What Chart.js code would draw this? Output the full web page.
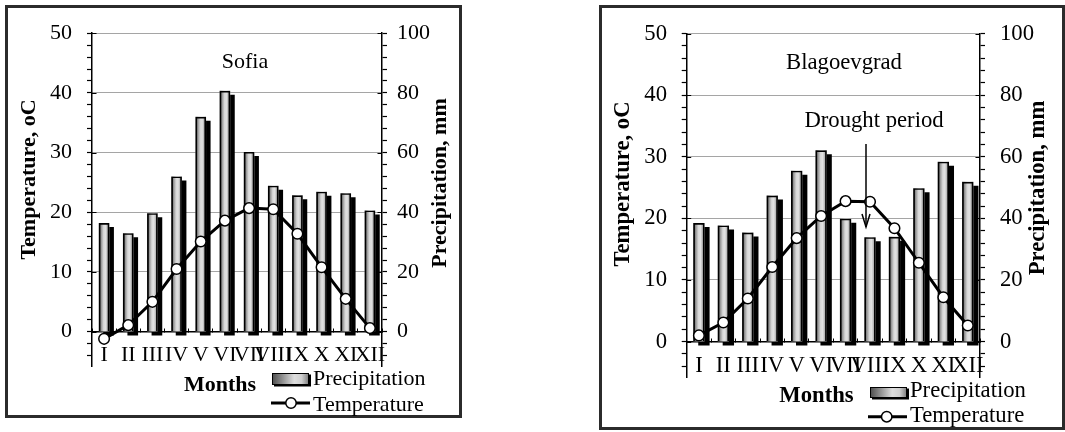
<!DOCTYPE html>
<html><head><meta charset="utf-8">
<script src="https://cdn.jsdelivr.net/npm/chart.js@4.4.1/dist/chart.umd.min.js"></script>
<style>
html,body{margin:0;padding:0;background:#fff;width:1065px;height:432px;overflow:hidden;}
.box{position:absolute;border:3px solid #2b2b2b;box-sizing:border-box;}
canvas{position:absolute;}
</style></head><body>
<div class="box" style="left:5px;top:5px;width:457px;height:413px"></div>
<div class="box" style="left:599px;top:5px;width:466px;height:425px"></div>
<canvas id="sofia" width="457" height="413" style="left:5px;top:5px"></canvas>
<canvas id="blag" width="466" height="425" style="left:599px;top:5px"></canvas>
<script>
const months = ['I','II','III','IV','V','VI','VII','VIII','IX','X','XI','XII'];
const sofiaTemperature = [-1.2, 1.1, 5.0, 10.5, 15.1, 18.6, 20.7, 20.5, 16.4, 10.8, 5.5, 0.6];
const sofiaPrecipitation = [36.3, 32.9, 39.6, 51.9, 71.9, 80.6, 60.1, 48.8, 45.6, 46.8, 46.3, 40.5];
const blagTemperature = [1.0, 3.1, 7.0, 12.1, 16.8, 20.4, 22.8, 22.7, 18.4, 12.8, 7.2, 2.6];
const blagPrecipitation = [38.4, 37.6, 35.3, 47.3, 55.4, 62.0, 39.8, 33.8, 33.9, 49.7, 58.3, 51.8];
const temperatureTickLabels = [0, 10, 20, 30, 40, 50];
const precipitationTickLabels = [0, 20, 40, 60, 80, 100];
const temperatureMinorStep = 2;
const precipitationMinorStep = 4;

const FONT = '"Liberation Serif", "Times New Roman", Times, serif';
function font(size, bold) { return (bold ? 'bold ' : '') + size + 'px ' + FONT; }

function barFill(chart, index, width) {
  const xs = chart.scales && chart.scales.x;
  if (!xs || !chart.chartArea) return '#c8c8c8';
  const cx = xs.getPixelForValue(index);
  const g = chart.ctx.createLinearGradient(cx - width / 2, 0, cx + width / 2, 0);
  g.addColorStop(0, '#5a5a5a');
  g.addColorStop(0.45, '#d8d8d8');
  g.addColorStop(0.65, '#e2e2e2');
  g.addColorStop(1, '#8a8a8a');
  return g;
}

function drawRot(c, text, x, y) {
  c.save(); c.translate(x, y); c.rotate(-Math.PI / 2);
  c.textAlign = 'center'; c.textBaseline = 'middle';
  c.fillText(text, 0, 0); c.restore();
}

const decorPlugin = {
  id: 'decor',
  beforeDatasetDraw(chart, args, o) {
    if (args.index === 0) {
      const c = chart.ctx; c.save();
      c.shadowColor = '#000'; c.shadowBlur = 0;
      c.shadowOffsetX = o.shadowX; c.shadowOffsetY = o.shadowY;
    }
  },
  afterDatasetDraw(chart, args) {
    if (args.index === 0) chart.ctx.restore();
  },
  afterDraw(chart, args, o) {
    const c = chart.ctx, a = chart.chartArea, fs = o.fs;
    c.save();
    // inward major ticks
    c.strokeStyle = '#000'; c.lineWidth = 1.2;
    temperatureTickLabels.forEach(v => {
      const y = Math.round(chart.scales.y.getPixelForValue(v)) + 0.5;
      c.beginPath();
      c.moveTo(a.left, y); c.lineTo(a.left + 4.5, y);
      c.moveTo(a.right - 4.5, y); c.lineTo(a.right, y);
      c.stroke();
    });
    c.fillStyle = '#000';
    c.textAlign = 'center'; c.textBaseline = 'middle';
    c.font = font(fs, false);
    c.fillText(o.title, o.titleX, o.titleY);
    c.font = font(fs, true);
    drawRot(c, o.leftTitle, o.leftTitleX, o.leftTitleY);
    drawRot(c, o.rightTitle, o.rightTitleX, o.rightTitleY);
    c.fillText(o.xTitle, o.xTitleX, o.xTitleY);
    // legend: precipitation
    const [rx, ry, rw, rh] = o.legRect;
    c.fillStyle = '#000';
    c.fillRect(rx + 2, ry + 1.5, rw, rh);
    const g = c.createLinearGradient(rx, 0, rx + rw, 0);
    g.addColorStop(0, '#4a4a4a'); g.addColorStop(0.6, '#dedede'); g.addColorStop(0.8, '#d0d0d0'); g.addColorStop(1, '#7a7a7a');
    c.fillStyle = g; c.fillRect(rx, ry, rw, rh);
    c.strokeStyle = '#000'; c.lineWidth = 1; c.strokeRect(rx + 0.5, ry + 0.5, rw - 1, rh - 1);
    c.fillStyle = '#000'; c.textAlign = 'left';
    c.font = font(fs, false);
    c.fillText(o.legLabel1, o.legText1[0], o.legText1[1]);
    // legend: temperature
    const [lx1, lx2, ly] = o.legLine;
    c.lineWidth = 3; c.beginPath(); c.moveTo(lx1, ly); c.lineTo(lx2, ly); c.stroke();
    c.beginPath(); c.arc(o.legCircle, ly, 5.2, 0, Math.PI * 2);
    c.fillStyle = '#fff'; c.fill(); c.lineWidth = 1.5; c.stroke();
    c.fillStyle = '#000';
    c.fillText(o.legLabel2, o.legText2[0], o.legText2[1]);
    // drought annotation
    if (o.drought) {
      const d = o.drought;
      c.textAlign = 'center';
      c.fillText(d.text, d.x, d.y);
      c.lineWidth = 1.5; c.strokeStyle = '#000';
      c.beginPath(); c.moveTo(d.ax, d.ay1); c.lineTo(d.ax, d.ay2); c.stroke();
      c.beginPath(); c.moveTo(d.ax - 4, d.ay2 - 13); c.lineTo(d.ax, d.ay2); c.lineTo(d.ax + 4, d.ay2 - 13); c.stroke();
    }
    c.restore();
  }
};

function buildChart(id, temps, precip, s) {
  const tickFont = { family: FONT, size: s.fs };
  return new Chart(document.getElementById(id), {
    type: 'bar',
    data: {
      labels: months,
      datasets: [
        { type: 'bar', label: 'Precipitation', data: precip, yAxisID: 'y1',
          backgroundColor: (ctx) => barFill(ctx.chart, ctx.dataIndex, s.bw),
          borderWidth: 0, barThickness: s.bw, grouped: false, order: 2 },
        { type: 'bar', label: 'Precipitation outline', data: precip, yAxisID: 'y1',
          backgroundColor: 'rgba(0,0,0,0)', borderColor: '#000', borderWidth: 1,
          barThickness: s.bw, grouped: false, order: 1 },
        { type: 'line', label: 'Temperature', data: temps, yAxisID: 'y',
          borderColor: '#000', borderWidth: 3, pointRadius: 5.3, pointBackgroundColor: '#fff',
          pointBorderColor: '#000', pointBorderWidth: 1.5, tension: 0, clip: false, order: 0 }
      ]
    },
    options: {
      responsive: false, animation: false, devicePixelRatio: 1,
      layout: { padding: { top: s.padTop, bottom: s.padBottom, left: 0, right: 0 } },
      plugins: {
        legend: { display: false }, tooltip: { enabled: false },
        decor: s
      },
      scales: {
        x: {
          type: 'category', position: { y: 0 }, offset: true,
          grid: { display: true, drawOnChartArea: false, drawTicks: true, tickLength: -4,
                  tickColor: '#000', tickWidth: 1, offset: true },
          border: { display: true, color: '#000', width: 1.5 },
          ticks: { autoSkip: false, maxRotation: 0, minRotation: 0, padding: s.xPad,
                   color: '#000', font: tickFont }
        },
        y: {
          type: 'linear', position: 'left', min: -5.75, max: 50, bounds: 'data',
          afterBuildTicks: (axis) => {
            const t = [];
            for (let v = -4; v <= 50; v += temperatureMinorStep) t.push({ value: v });
            axis.ticks = t;
          },
          afterFit: (sc) => { sc.width = s.leftW; },
          grid: {
            color: (ctx) => (ctx.tick && ctx.tick.value > 0 && temperatureTickLabels.includes(ctx.tick.value)) ? '#4a4a4a' : 'rgba(0,0,0,0)',
            lineWidth: 1, tickLength: 5, tickColor: '#000', tickWidth: 1.2
          },
          border: { display: true, color: '#000', width: 1.5, dash: [1, 1] },
          ticks: { autoSkip: false, padding: s.yPadL, color: '#000', font: tickFont,
                   callback: (v) => temperatureTickLabels.includes(v) ? String(v) : '' }
        },
        y1: {
          type: 'linear', position: 'right', min: -11.5, max: 100, bounds: 'data',
          afterBuildTicks: (axis) => {
            const t = [];
            for (let v = -8; v <= 100; v += precipitationMinorStep) t.push({ value: v });
            axis.ticks = t;
          },
          afterFit: (sc) => { sc.width = s.rightW; },
          grid: { drawOnChartArea: false, tickLength: 5, tickColor: '#000', tickWidth: 1.2 },
          border: { display: true, color: '#000', width: 1.5 },
          ticks: { autoSkip: false, padding: s.yPadR, color: '#000', font: tickFont,
                   callback: (v) => precipitationTickLabels.includes(v) ? String(v) : '' }
        }
      }
    },
    plugins: [decorPlugin]
  });
}

const common = {
  leftTitle: 'Temperature, oC', rightTitle: 'Precipitation, mm', xTitle: 'Months',
  legLabel1: 'Precipitation', legLabel2: 'Temperature'
};

buildChart('sofia', sofiaTemperature, sofiaPrecipitation, Object.assign({}, common, {
  fs: 22, bw: 10, shadowX: 4.5, shadowY: 4,
  padTop: 22, padBottom: 52, leftW: 87, rightW: 80,
  yPadL: 15, yPadR: 10, xPad: 14.8,
  title: 'Sofia', titleX: 240, titleY: 57,
  leftTitleX: 24.5, leftTitleY: 174.5, rightTitleX: 435, rightTitleY: 178,
  xTitleX: 215, xTitleY: 380.5,
  legRect: [267, 368, 37, 12], legText1: [308, 374.5],
  legLine: [266, 305, 398], legCircle: 286, legText2: [308, 400]
}));

buildChart('blag', blagTemperature, blagPrecipitation, Object.assign({}, common, {
  fs: 22.7, bw: 10.7, shadowX: 5, shadowY: 4,
  padTop: 22.7, padBottom: 53, leftW: 87.7, rightW: 85,
  yPadL: 14.7, yPadR: 15, xPad: 14.4,
  title: 'Blagoevgrad', titleX: 245, titleY: 58,
  leftTitleX: 24.5, leftTitleY: 179, rightTitleX: 439.5, rightTitleY: 183,
  xTitleX: 217.5, xTitleY: 391.5,
  legRect: [271, 382, 37, 11], legText1: [311, 386],
  legLine: [269, 308, 411.7], legCircle: 287.7, legText2: [311, 410.8],
  drought: { text: 'Drought period', x: 275, y: 116.5, ax: 267, ay1: 139, ay2: 222 }
}));
</script>
</body></html>
